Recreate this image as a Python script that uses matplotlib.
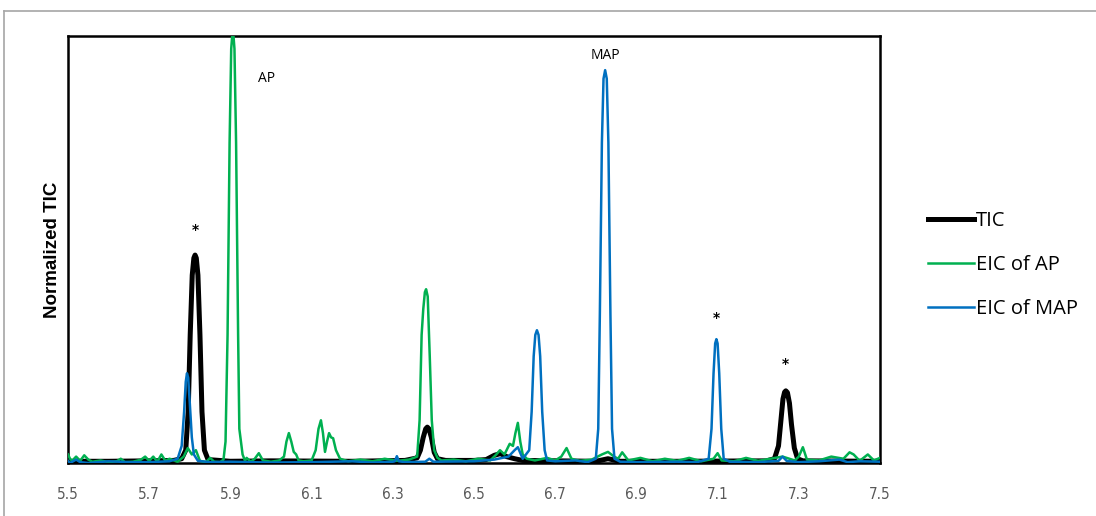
import matplotlib.pyplot as plt
from matplotlib.lines import Line2D

# retention time (min) and normalized intensity for each trace
tic_t = [5.50, 5.60, 5.70, 5.76, 5.78, 5.790, 5.796, 5.801, 5.806, 5.810, 5.813, 5.816,
         5.820, 5.825, 5.830, 5.836, 5.845, 5.90, 6.00, 6.20, 6.33, 6.36, 6.368, 6.375,
         6.381, 6.385, 6.389, 6.395, 6.402, 6.41, 6.43, 6.50, 6.53, 6.55, 6.565, 6.58,
         6.60, 6.62, 6.80, 6.83, 6.86, 7.00, 7.22, 7.24, 7.25, 7.256, 7.261, 7.265, 7.268,
         7.272, 7.277, 7.282, 7.289, 7.297, 7.31, 7.50]
tic_y = [0.004, 0.004, 0.005, 0.006, 0.010, 0.03, 0.12, 0.30, 0.44, 0.48, 0.487, 0.48,
         0.44, 0.30, 0.12, 0.03, 0.008, 0.004, 0.005, 0.004, 0.006, 0.012, 0.03, 0.06,
         0.080, 0.084, 0.080, 0.06, 0.025, 0.010, 0.006, 0.006, 0.008, 0.018, 0.022, 0.015,
         0.010, 0.006, 0.004, 0.010, 0.004, 0.004, 0.005, 0.010, 0.04, 0.10, 0.15, 0.166, 0.169,
         0.165, 0.14, 0.09, 0.035, 0.010, 0.005, 0.004]

ap_t = [5.50, 5.505, 5.51, 5.52, 5.53, 5.54, 5.55, 5.56, 5.58, 5.60, 5.62, 5.63, 5.64,
        5.66, 5.68, 5.69, 5.70, 5.71, 5.72, 5.73, 5.74, 5.75, 5.77, 5.785, 5.795, 5.805,
        5.815, 5.825, 5.84, 5.85, 5.86, 5.875, 5.883, 5.888, 5.893, 5.898, 5.902, 5.906,
        5.910, 5.914, 5.919, 5.922, 5.926, 5.930, 5.936, 5.94, 5.95, 5.96, 5.97, 5.98,
        6.00, 6.02, 6.032, 6.038, 6.044, 6.05, 6.056, 6.062, 6.068, 6.08, 6.10, 6.110,
        6.117, 6.123, 6.128, 6.133, 6.138, 6.143, 6.148, 6.153, 6.160, 6.170, 6.19, 6.22,
        6.25, 6.28, 6.31, 6.34, 6.36, 6.366, 6.371, 6.375, 6.379, 6.382, 6.386, 6.391,
        6.396, 6.402, 6.41, 6.42, 6.45, 6.48, 6.51, 6.54, 6.555, 6.564, 6.575, 6.588,
        6.596, 6.602, 6.608, 6.614, 6.620, 6.63, 6.65, 6.68, 6.70, 6.715, 6.728, 6.74,
        6.76, 6.79, 6.815, 6.83, 6.845, 6.855, 6.865, 6.88, 6.91, 6.94, 6.97, 7.00, 7.03,
        7.06, 7.09, 7.100, 7.11, 7.14, 7.17, 7.20, 7.23, 7.26, 7.29, 7.300, 7.310, 7.320,
        7.35, 7.38, 7.41, 7.425, 7.435, 7.45, 7.47, 7.485, 7.50]
ap_y = [0.020, 0.010, 0.005, 0.015, 0.005, 0.018, 0.008, 0.003, 0.006, 0.002, 0.004, 0.010, 0.002,
        0.003, 0.008, 0.015, 0.005, 0.015, 0.003, 0.020, 0.005, 0.010, 0.003, 0.015, 0.035, 0.020,
        0.030, 0.005, 0.002, 0.012, 0.003, 0.002, 0.008, 0.05, 0.30, 0.75, 0.97, 1.02,
        0.97, 0.75, 0.30, 0.08, 0.05, 0.02, 0.005, 0.012, 0.003, 0.010, 0.023, 0.006,
        0.003, 0.006, 0.015, 0.05, 0.070, 0.05, 0.026, 0.020, 0.006, 0.004, 0.006, 0.03,
        0.08, 0.100, 0.07, 0.026, 0.05, 0.070, 0.06, 0.058, 0.03, 0.010, 0.004, 0.008,
        0.004, 0.010, 0.005, 0.008, 0.015, 0.10, 0.30, 0.36, 0.40, 0.407, 0.39, 0.25,
        0.10, 0.03, 0.012, 0.006, 0.008, 0.004, 0.010, 0.006, 0.02, 0.030, 0.020, 0.045,
        0.040, 0.07, 0.094, 0.05, 0.020, 0.010, 0.006, 0.012, 0.006, 0.015, 0.035, 0.010,
        0.005, 0.008, 0.020, 0.026, 0.015, 0.010, 0.025, 0.006, 0.012, 0.004, 0.010, 0.005, 0.012,
        0.004, 0.010, 0.023, 0.006, 0.004, 0.012, 0.005, 0.010, 0.015, 0.006, 0.015, 0.037, 0.008,
        0.006, 0.015, 0.010, 0.025, 0.020, 0.005, 0.020, 0.006, 0.012]

map_t = [5.50, 5.505, 5.52, 5.53, 5.55, 5.60, 5.65, 5.70, 5.75, 5.77, 5.780, 5.786,
         5.790, 5.793, 5.796, 5.800, 5.805, 5.810, 5.82, 5.85, 5.90, 6.00, 6.10, 6.20,
         6.25, 6.30, 6.305, 6.310, 6.315, 6.33, 6.38, 6.39, 6.40, 6.50, 6.55, 6.585,
         6.600, 6.608, 6.62, 6.636, 6.642, 6.647, 6.651, 6.655, 6.659, 6.663, 6.668, 6.674,
         6.68, 6.70, 6.75, 6.78, 6.800, 6.806, 6.810, 6.815, 6.819, 6.823, 6.827, 6.831,
         6.836, 6.840, 6.846, 6.86, 6.90, 7.00, 7.05, 7.078, 7.085, 7.090, 7.094, 7.097,
         7.100, 7.104, 7.109, 7.115, 7.13, 7.20, 7.25, 7.26, 7.27, 7.30, 7.35, 7.40,
         7.42, 7.45, 7.50]
map_y = [0.005, 0.000, 0.008, 0.002, 0.000, 0.004, 0.002, 0.002, 0.004, 0.010, 0.04, 0.12,
         0.19, 0.21, 0.20, 0.14, 0.06, 0.02, 0.005, 0.002, 0.003, 0.001, 0.002, 0.004,
         0.001, 0.003, 0.004, 0.016, 0.004, 0.002, 0.003, 0.010, 0.003, 0.004, 0.008, 0.015,
         0.03, 0.037, 0.010, 0.03, 0.12, 0.25, 0.30, 0.311, 0.30, 0.25, 0.12, 0.03,
         0.006, 0.004, 0.006, 0.002, 0.010, 0.08, 0.35, 0.75, 0.90, 0.92, 0.90, 0.75,
         0.35, 0.08, 0.010, 0.003, 0.002, 0.003, 0.002, 0.010, 0.08, 0.21, 0.28, 0.29,
         0.28, 0.21, 0.08, 0.010, 0.003, 0.002, 0.005, 0.015, 0.005, 0.002, 0.004, 0.008,
         0.002, 0.004, 0.003]

x_ticks = [5.5, 5.7, 5.9, 6.1, 6.3, 6.5, 6.7, 6.9, 7.1, 7.3, 7.5]

# labels placed over peaks: (text, time, height)
peak_labels = [("AP", 5.99, 0.90), ("MAP", 6.823, 0.955)]
star_marks = [(5.813, 0.545), (7.096, 0.34), (7.268, 0.233)]

plt.rcParams['font.family'] = ['Open Sans', 'DejaVu Sans']

fig = plt.figure(figsize=(10.96, 5.16), dpi=100)
ax = fig.add_axes([68/1096, 1 - 463/516, (880 - 68)/1096, (463 - 36)/516])

ax.plot(tic_t, tic_y, color='black', lw=3.6, label='TIC', zorder=2, solid_joinstyle='round')
ax.plot(ap_t, ap_y, color='#00b050', lw=1.8, label='EIC of AP', zorder=3)
ax.plot(map_t, map_y, color='#0070c0', lw=1.8, label='EIC of MAP', zorder=4)

for txt, t, h in peak_labels:
    ax.text(t, h, txt, ha='center', va='center', fontsize=10)
for t, h in star_marks:
    ax.text(t, h, '*', ha='center', va='center', fontsize=10, fontweight='bold',
            family='DejaVu Sans')

ax.set_xlim(5.5, 7.5)
ax.set_ylim(0, 1.0)
ax.set_xticks(x_ticks)
ax.set_xticklabels([f"{v:.1f}" for v in x_ticks], family='DejaVu Sans',
                   fontstretch='condensed', fontsize=11, color='#595959')
ax.tick_params(axis='x', length=0, pad=17)
ax.set_yticks([])
for s in ax.spines.values():
    s.set_linewidth(1.8)
    s.set_color('black')
ax.set_ylabel('Normalized TIC', fontsize=13.5, fontweight='bold', labelpad=5,
              family='Liberation Sans')

fig.legend(loc='center left', bbox_to_anchor=(928/1096, 1 - 265/516), frameon=False,
           fontsize=14.5, handlelength=2.3, handletextpad=0.1, labelspacing=1.2,
           borderpad=0, borderaxespad=0)

# outer chart border
fig.add_artist(Line2D([4/1096, 4/1096], [0, 1 - 11/516], transform=fig.transFigure,
                      color='#a6a6a6', lw=1.2))
fig.add_artist(Line2D([4/1096, 1], [1 - 11/516, 1 - 11/516], transform=fig.transFigure,
                      color='#a6a6a6', lw=1.2))

fig.savefig('out.png', dpi=100)
